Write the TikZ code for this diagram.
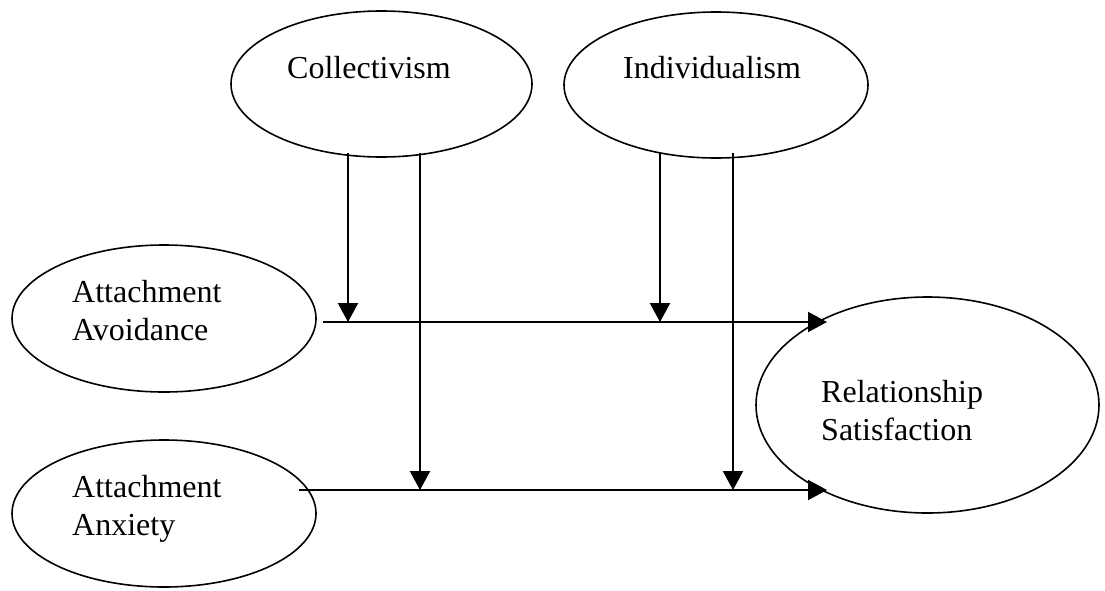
\documentclass[tikz,border=0pt]{standalone}
\usepackage{fontspec}
\setmainfont{Liberation Serif}
\usetikzlibrary{shapes.geometric,arrows.meta}
\begin{document}
\begin{tikzpicture}[x=1pt,y=-1pt,
  oval/.style={draw,ellipse,line width=1.6pt,inner sep=0pt,minimum width=#1},
  oval/.default=304pt,
  lbl/.style={anchor=base west,align=left,inner sep=0pt,
    font=\fontsize{32}{38}\selectfont},
  arr/.style={line width=2.2pt,-{Triangle[length=19pt,width=20pt]}}]
\useasboundingbox (0,0) rectangle (1105,590);

% constructs
\node[oval=301pt,minimum height=146pt] (coll) at (381.5,84) {};
\node[oval=304pt,minimum height=146pt] (indiv) at (716,85) {};
\node[oval=304pt,minimum height=147pt] (avoid) at (164,318.5) {};
\node[oval=304pt,minimum height=147pt] (anx) at (164,513.5) {};
\node[oval=343pt,minimum height=216pt] (sat) at (927.5,405) {};

% labels (two-line labels are placed by the baseline of their last line)
\node[lbl] (coll-t) at (287,78) {Collectivism};
\node[lbl] (indiv-t) at (623,78) {Individualism};
\node[lbl] (avoid-t) at (72,340) {Attachment\\Avoidance};
\node[lbl] (anx-t) at (72,535) {Attachment\\Anxiety};
\node[lbl] (sat-t) at (821,440) {Relationship\\Satisfaction};

% path end points
\coordinate (avOut) at (323,322);
\coordinate (axOut) at (299,490);
\coordinate (satA) at (827,322);
\coordinate (satB) at (827,490);
\coordinate (c1) at (348,153);
\coordinate (c2) at (420,153);
\coordinate (i1) at (660,153);
\coordinate (i2) at (733,153);
\coordinate (m1) at (348,322);
\coordinate (m2) at (420,490);
\coordinate (m3) at (660,322);
\coordinate (m4) at (733,490);

% main effects
\draw[arr] (avOut) -- (satA);
\draw[arr] (axOut) -- (satB);

% moderation
\draw[arr] (c1) -- (m1);
\draw[arr] (c2) -- (m2);
\draw[arr] (i1) -- (m3);
\draw[arr] (i2) -- (m4);
\end{tikzpicture}
\end{document}
